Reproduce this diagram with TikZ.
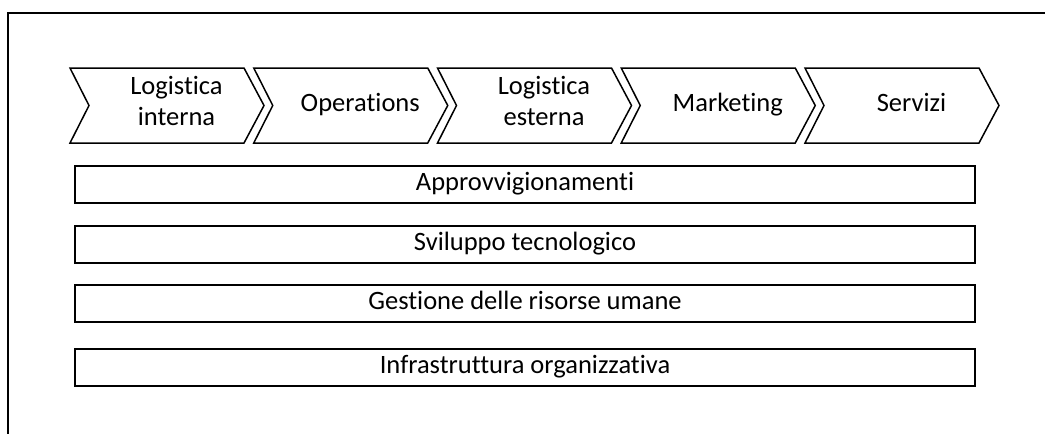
\documentclass[tikz,border=0pt]{standalone}
\usepackage{fontspec}
\setmainfont{Carlito}[Ligatures={NoCommon,NoContextual}]
\usetikzlibrary{positioning}

\begin{document}
\begin{tikzpicture}[x=1pt,y=-1pt,
    freccia/.style={line width=1.5pt, line join=miter},
    testo/.style={align=center, font=\fontsize{26.5}{31}\selectfont,
      execute at begin node=\strut, execute at end node=\strut},
    barra/.style={draw, line width=2pt, minimum width=900pt, minimum height=37pt,
      inner sep=0pt, font=\fontsize{26.5}{31}\selectfont, execute at begin node=\strut}]
    \useasboundingbox (0,0) rectangle (1045,434);

    % Cornice
    \coordinate (basso) at (8,434);
    \coordinate (destra) at (1045,13);
    \draw[line width=2pt] (basso) |- (destra);

    % Attivita primarie
    \foreach \nome/\etichetta [count=\i from 0] in {li/Logistica\\interna, op/Operations, le/Logistica\\esterna, mk/Marketing, sv/Servizi} {
        \pgfmathsetmacro{\xa}{70+183.75*\i}
        \draw[freccia] (\xa,68) -- ++(174,0) -- ++(20,37.5) -- ++(-20,37.5) -- ++(-174,0) -- ++(19,-37.5) -- cycle;
        \node[testo] (\nome) at (\xa+106.5,105.5) {\etichetta};
    }

    % Attivita di supporto
    \node[barra] (appr) at (525,184) {Approvvigionamenti};
    \node[barra] (svil) at (525,244.5) {Sviluppo tecnologico};
    \node[barra] (gest) at (525,303.5) {Gestione delle risorse umane};
    \node[barra] (infr) at (525,367.5) {Infrastruttura organizzativa};
\end{tikzpicture}
\end{document}
